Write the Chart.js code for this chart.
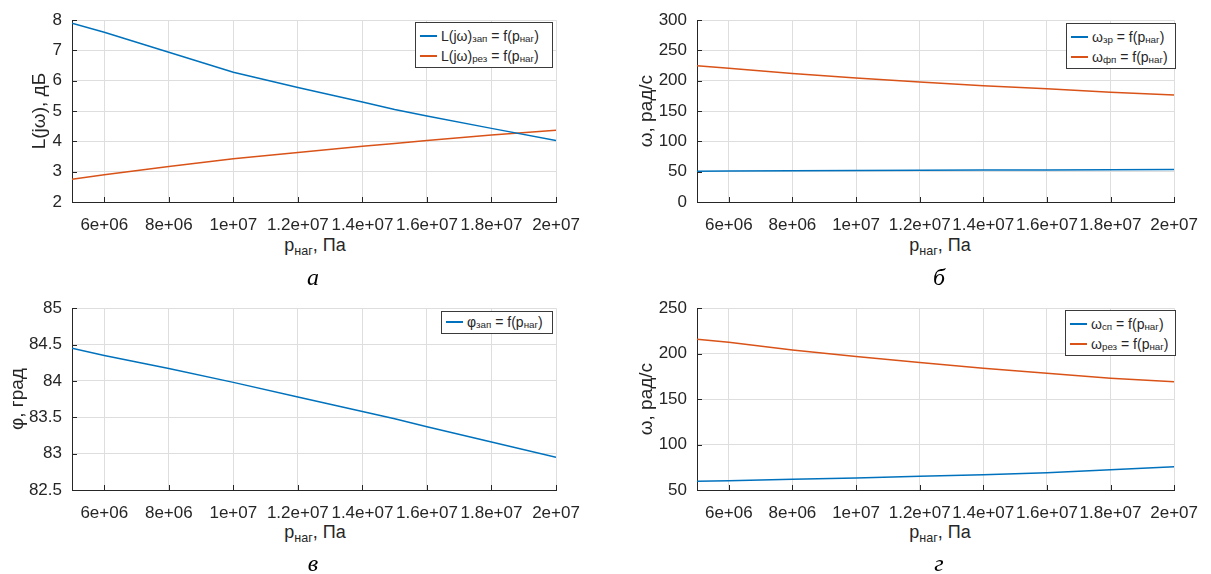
<!DOCTYPE html>
<html>
<head>
<meta charset="utf-8">
<script src="https://cdn.jsdelivr.net/npm/chart.js@4.4.1/dist/chart.umd.min.js"></script>
<style>
  body { margin: 0; background: #fff; }
  #page { position: relative; width: 1211px; height: 574px; background: #fff; font-family: "Liberation Sans", Arial, sans-serif; color: #262626; }
  .panel { position: absolute; }
  .legend { position: absolute; background: #fff; border: 1px solid #3a3a3a; font-size: 14px; box-sizing: border-box; padding: 3px 4px; }
  .legend .row { display: flex; align-items: center; height: 20px; white-space: nowrap; }
  .legend .sw { width: 17px; height: 2px; margin-right: 4px; }
  sub { font-size: 70%; vertical-align: baseline; position: relative; top: 0.3em; }
  .xtitle { position: absolute; font-size: 18px; transform: translate(-50%, -50%); white-space: nowrap; }
  .caption { position: absolute; font-family: "Liberation Serif", "Times New Roman", serif; font-style: italic; font-size: 24px; color: #000; transform: translate(-50%, -50%); }
</style>
</head>
<body>
<div id="page">
  <div class="panel" style="left:0;top:0;width:600px;height:232px"><canvas id="chartA"></canvas></div>
  <div class="panel" style="left:600px;top:0;width:611px;height:232px"><canvas id="chartB"></canvas></div>
  <div class="panel" style="left:0;top:288px;width:600px;height:232px"><canvas id="chartC"></canvas></div>
  <div class="panel" style="left:600px;top:288px;width:611px;height:232px"><canvas id="chartD"></canvas></div>

  <div class="legend" style="left:415px;top:22px;width:138px;height:46px">
    <div class="row"><span class="sw" style="background:#0072BD"></span>L(jω)<sub>зап</sub>&nbsp;=&nbsp;f(p<sub>наг</sub>)</div>
    <div class="row"><span class="sw" style="background:#D95319"></span>L(jω)<sub>рез</sub>&nbsp;=&nbsp;f(p<sub>наг</sub>)</div>
  </div>
  <div class="legend" style="left:1066px;top:23px;width:110px;height:46px">
    <div class="row"><span class="sw" style="background:#0072BD"></span>ω<sub>зр</sub>&nbsp;=&nbsp;f(p<sub>наг</sub>)</div>
    <div class="row"><span class="sw" style="background:#D95319"></span>ω<sub>фп</sub>&nbsp;=&nbsp;f(p<sub>наг</sub>)</div>
  </div>
  <div class="legend" style="left:441px;top:311px;width:112px;height:23px;padding-top:0">
    <div class="row"><span class="sw" style="background:#0072BD"></span>φ<sub>зап</sub>&nbsp;=&nbsp;f(p<sub>наг</sub>)</div>
  </div>
  <div class="legend" style="left:1065px;top:310px;width:111px;height:46px">
    <div class="row"><span class="sw" style="background:#0072BD"></span>ω<sub>сп</sub>&nbsp;=&nbsp;f(p<sub>наг</sub>)</div>
    <div class="row"><span class="sw" style="background:#D95319"></span>ω<sub>рез</sub>&nbsp;=&nbsp;f(p<sub>наг</sub>)</div>
  </div>

  <div class="xtitle" style="left:315px;top:245px">p<sub>наг</sub>, Па</div>
  <div class="xtitle" style="left:940px;top:245px">p<sub>наг</sub>, Па</div>
  <div class="xtitle" style="left:315px;top:532px">p<sub>наг</sub>, Па</div>
  <div class="xtitle" style="left:940px;top:532px">p<sub>наг</sub>, Па</div>

  <div class="caption" style="left:313px;top:277px">а</div>
  <div class="caption" style="left:939px;top:277px">б</div>
  <div class="caption" style="left:313px;top:563px">в</div>
  <div class="caption" style="left:939px;top:563px">г</div>
</div>
<script>
const pressure = [5e6, 6e6, 8e6, 1e7, 1.2e7, 1.4e7, 1.5e7, 1.6e7, 1.8e7, 2e7];
const xTickValues = [6e6, 8e6, 1e7, 1.2e7, 1.4e7, 1.6e7, 1.8e7, 2e7];
const xTickLabels = ["6e+06", "8e+06", "1e+07", "1.2e+07", "1.4e+07", "1.6e+07", "1.8e+07", "2e+07"];

// а
const lZap = [7.90, 7.60, 6.94, 6.28, 5.78, 5.30, 5.05, 4.84, 4.43, 4.03];
const lRez = [2.75, 2.90, 3.17, 3.43, 3.63, 3.84, 3.93, 4.03, 4.21, 4.37];
// б
const wZr = [50.8, 51.0, 51.4, 51.8, 52.2, 52.6, 52.8, 53.0, 53.3, 53.6];
const wFp = [224.8, 220.6, 212.0, 204.5, 198.0, 192.0, 189.4, 186.8, 181.3, 176.5];
// в
const phiZap = [84.45, 84.35, 84.17, 83.98, 83.78, 83.58, 83.48, 83.37, 83.16, 82.95];
// г
const wSp = [59.7, 60.3, 61.9, 63.3, 65.0, 66.8, 67.9, 69.0, 72.2, 75.5];
const wRez = [215.8, 212.5, 203.9, 196.8, 190.3, 184.0, 181.2, 178.4, 173.0, 169.0];

const BLUE = "#0072BD";
const RED = "#D95319";
const AXIS = "#262626";
const GRID = "#dedede";
const FONT = "'Liberation Sans', Arial, sans-serif";

const innerTicks = {
  id: "innerTicks",
  afterDraw(chart) {
    const { ctx, chartArea: a, scales: { x, y } } = chart;
    ctx.save();
    ctx.strokeStyle = AXIS;
    ctx.lineWidth = 1;
    ctx.beginPath();
    x.ticks.forEach(t => {
      const px = Math.round(x.getPixelForValue(t.value)) + 0.5;
      ctx.moveTo(px, a.bottom);
      ctx.lineTo(px, a.bottom - 5);
    });
    y.ticks.forEach(t => {
      const py = Math.round(y.getPixelForValue(t.value)) + 0.5;
      ctx.moveTo(a.left, py);
      ctx.lineTo(a.left + 5, py);
    });
    ctx.stroke();
    ctx.restore();
  }
};

function series(values, color) {
  return {
    data: pressure.map((p, i) => ({ x: p, y: values[i] })),
    borderColor: color,
    borderWidth: 1.5,
    pointRadius: 0,
    fill: false,
    tension: 0
  };
}

function makeChart(id, datasets, yOpts, yWidth, rightPad, titlePad) {
  new Chart(document.getElementById(id), {
    type: "line",
    data: { datasets: datasets },
    plugins: [innerTicks],
    options: {
      responsive: true,
      maintainAspectRatio: false,
      animation: false,
      layout: { padding: { left: 0, top: 16, right: rightPad, bottom: 0 } },
      plugins: { legend: { display: false }, tooltip: { enabled: false } },
      scales: {
        x: {
          type: "linear",
          min: 5e6,
          max: 2e7,
          afterBuildTicks: s => { s.ticks = xTickValues.map(v => ({ value: v })); },
          afterFit: s => { s.height = 30; },
          grid: { color: GRID, drawTicks: false },
          border: { color: AXIS, width: 1 },
          ticks: {
            autoSkip: false,
            maxRotation: 0,
            minRotation: 0,
            padding: 13,
            color: AXIS,
            font: { family: FONT, size: 17 },
            callback: (v, i) => xTickLabels[i]
          }
        },
        y: {
          min: yOpts.min,
          max: yOpts.max,
          afterFit: s => { s.width = yWidth; },
          grid: { color: GRID, drawTicks: false },
          border: { color: AXIS, width: 1 },
          title: {
            display: true,
            text: yOpts.title,
            color: AXIS,
            font: { family: FONT, size: 19 },
            padding: { top: titlePad, bottom: 0 }
          },
          ticks: {
            stepSize: yOpts.step,
            padding: 10,
            color: AXIS,
            font: { family: FONT, size: 17 },
            callback: v => String(v)
          }
        }
      }
    }
  });
}

makeChart("chartA", [series(lZap, BLUE), series(lRez, RED)],
  { min: 2, max: 8, step: 1, title: "L(jω), дБ" }, 72, 44, 28);
makeChart("chartB", [series(wZr, BLUE), series(wFp, RED)],
  { min: 0, max: 300, step: 50, title: "ω, рад/с" }, 97, 28, 35);
makeChart("chartC", [series(phiZap, BLUE)],
  { min: 82.5, max: 85, step: 0.5, title: "φ, град" }, 72, 44, 6);
makeChart("chartD", [series(wSp, BLUE), series(wRez, RED)],
  { min: 50, max: 250, step: 50, title: "ω, рад/с" }, 97, 28, 35);
</script>
</body>
</html>
